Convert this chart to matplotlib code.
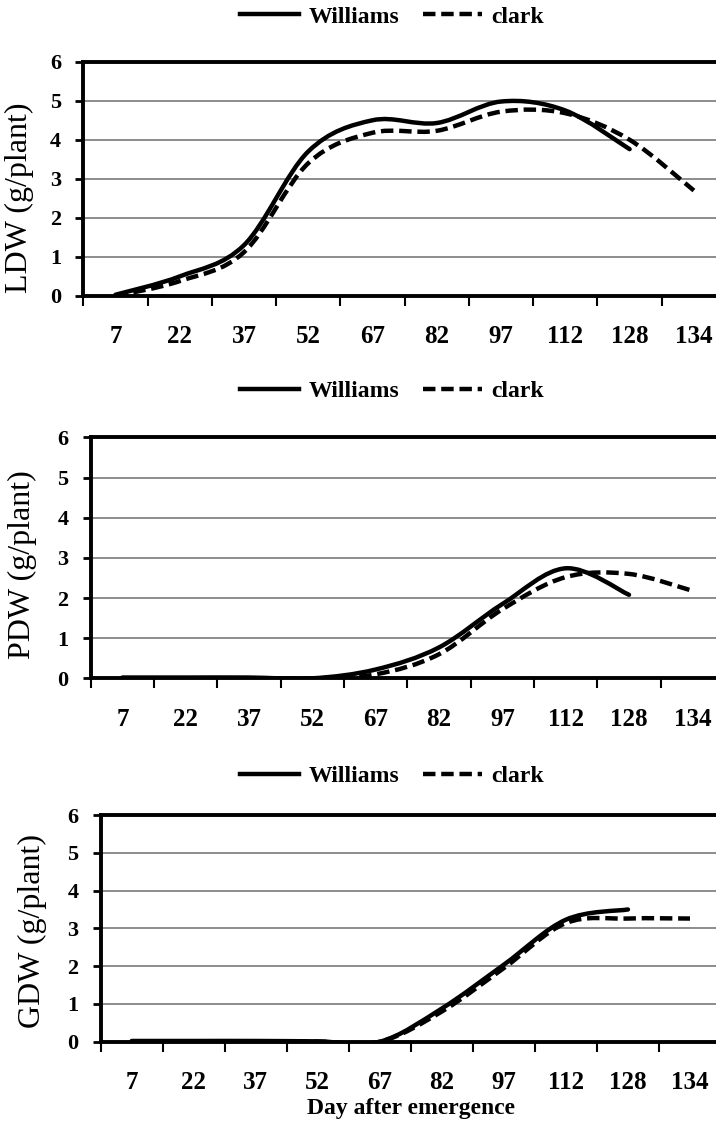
import numpy as np
import matplotlib
matplotlib.use("Agg")
import matplotlib.pyplot as plt
from matplotlib.path import Path
from matplotlib.patches import PathPatch
from matplotlib.lines import Line2D

plt.rcParams['font.family'] = ['Liberation Serif', 'DejaVu Serif']

days = ["7", "22", "37", "52", "67", "82", "97", "112", "128", "134"]

# Williams has no value at day 134
ldw_williams = [0.03, 0.5, 1.3, 3.7, 4.5, 4.43, 4.98, 4.75, 3.76]
ldw_clark = [0.0, 0.38, 1.12, 3.4, 4.18, 4.23, 4.72, 4.68, 4.0, 2.7]

pdw_williams = [0.02, 0.02, 0.02, 0.0, 0.22, 0.77, 1.85, 2.74, 2.08]
pdw_clark = [0.0, 0.0, 0.0, 0.0, 0.1, 0.6, 1.72, 2.52, 2.6, 2.18]

gdw_williams = [0.02, 0.02, 0.02, 0.01, 0.0, 0.88, 2.04, 3.23, 3.5]
gdw_clark = [0.0, 0.0, 0.0, 0.0, 0.0, 0.8, 1.95, 3.14, 3.26, 3.26]

series_names = ["Williams", "clark"]


# Excel-like smoothed line: bezier segments with catmull-rom control points
def smooth_path(vals):
    p = np.column_stack([np.arange(len(vals)), vals]).astype(float)
    verts = [p[0]]
    codes = [Path.MOVETO]
    n = len(p)
    for i in range(n - 1):
        p_prev = p[i - 1] if i > 0 else p[i]
        p_next2 = p[i + 2] if i + 2 < n else p[i + 1]
        c1 = p[i] + (p[i + 1] - p_prev) / 6.0
        c2 = p[i + 1] - (p_next2 - p[i]) / 6.0
        verts += [c1, c2, p[i + 1]]
        codes += [Path.CURVE4] * 3
    return Path(verts, codes)


dash = (0, (2.8, 1.3))

fig = plt.figure(figsize=(7.16, 11.24), dpi=100)

# label, series, axes rect, ylabel x offset (px), ylabel y, legend y
panels = [
    ("LDW (g/plant)", ldw_williams, ldw_clark,
     [0.1163, 0.7367, 0.8977, 0.2084], -49, 0.42, 0.985),
    ("PDW (g/plant)", pdw_williams, pdw_clark,
     [0.1267, 0.3965, 0.8845, 0.2144], -54, 0.47, 0.6515),
    ("GDW (g/plant)", gdw_williams, gdw_clark,
     [0.1406, 0.0732, 0.8664, 0.2017], -54, 0.49, 0.309),
]

for k, (ylab, w, c, pos, lab_dx, lab_y, leg_y) in enumerate(panels):
    ax = fig.add_axes(pos)
    ax.set_xlim(-0.5, len(days) - 0.5)
    ax.set_ylim(0, 6)

    ax.set_axisbelow(True)
    ax.yaxis.grid(True, color="#6e6e6e", lw=1.1)

    ax.add_patch(PathPatch(smooth_path(w), fill=False, edgecolor="black",
                           lw=3.2, zorder=3, capstyle="round"))
    ax.add_patch(PathPatch(smooth_path(c), fill=False, edgecolor="black",
                           lw=3.2, ls=dash, zorder=3))

    ax.set_xticks(np.arange(len(days)))
    ax.set_xticklabels(days, fontsize=18, fontweight="bold")
    ax.set_xticks(np.arange(len(days) + 1) - 0.5, minor=True)
    ax.tick_params(axis="x", which="major", length=0, pad=21)
    ax.tick_params(axis="x", which="minor", length=7, width=1.5, direction="out")

    ax.set_yticks(range(7))
    ax.set_yticklabels([str(v) for v in range(7)], fontsize=16, fontweight="bold")
    ax.tick_params(axis="y", length=6, width=2, direction="out", pad=10)

    for side in ["left", "top", "bottom"]:
        ax.spines[side].set_linewidth(2.8)
    ax.spines["right"].set_visible(False)

    ax.set_ylabel(ylab, fontsize=23)
    ax.yaxis.set_label_coords(lab_dx / (pos[2] * 716), lab_y)

    handles = [Line2D([], [], color="black", lw=3.2),
               Line2D([], [], color="black", lw=3.2, ls=dash)]
    fig.legend(handles, series_names, loc="center", ncol=2,
               bbox_to_anchor=(0.548, leg_y), frameon=False,
               prop={"size": 17, "weight": "bold"},
               handlelength=2.5, handletextpad=0.4, columnspacing=1.0)

    if k == 2:
        ax.set_xlabel("Day after emergence", fontsize=17, fontweight="bold",
                      labelpad=3)

fig.savefig("out.png", dpi=100)
